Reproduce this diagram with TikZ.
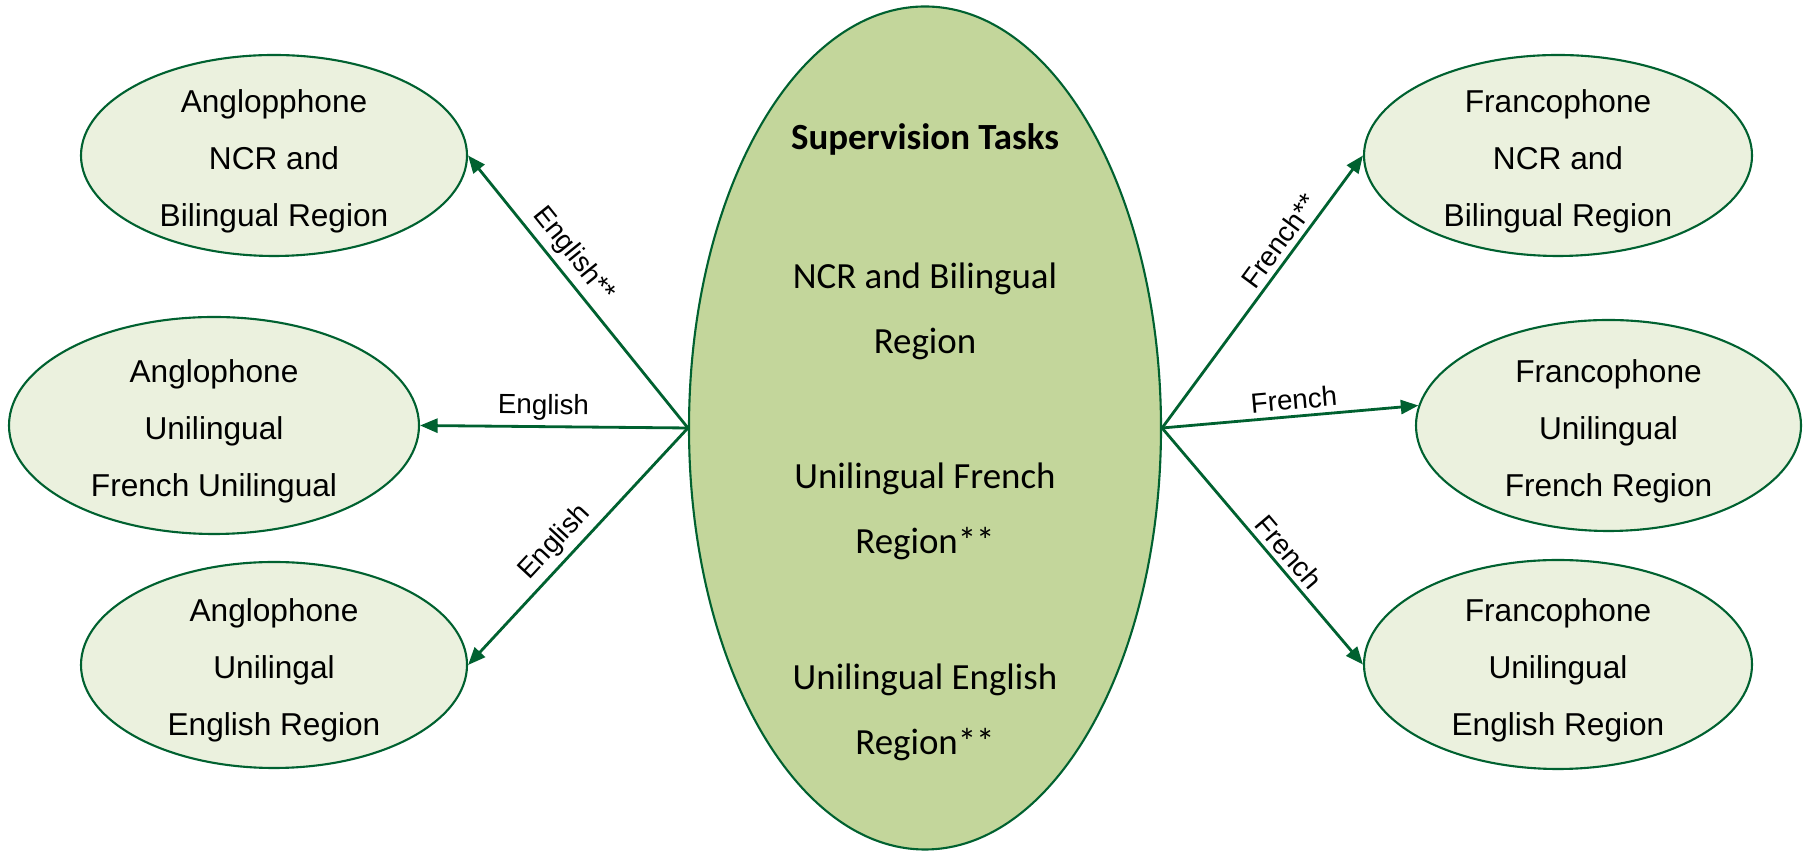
\documentclass[tikz,border=0pt]{standalone}
\usepackage{fontspec}
\setmainfont{Liberation Sans}
\newfontfamily\calibrifont{Carlito}
\usetikzlibrary{shapes.geometric,arrows.meta}
\definecolor{regionfill}{RGB}{235,241,222}
\definecolor{taskfill}{RGB}{195,214,155}
\definecolor{edgegreen}{RGB}{0,97,48}
\newcommand\colorLink{edgegreen}

\tikzset{
	region/.style={ellipse, draw=edgegreen, fill=regionfill, line width=0.6pt, inner xsep=0pt, inner ysep=-3pt, text height=42.2pt, align=center, font=\fontsize{9}{16.2}\selectfont},
	link/.style={-{Triangle[length=5pt,width=4pt]}, draw=\colorLink, line width=0.8pt},
	linklabel/.style={font=\fontsize{7.9}{9}\selectfont, sloped, above, inner sep=1.5pt}
}

\begin{document}
\begin{tikzpicture}
		\useasboundingbox (0,0) rectangle (18.1,8.52);

		% centre
		\node[ellipse, draw=edgegreen, fill=taskfill, line width=0.6pt, minimum width=4.72cm, minimum height=8.43cm] (tasks) at (9.25,4.24) {};
		\node[align=center, font=\calibrifont\fontsize{10.5}{18.5}\selectfont] (taskstext) at ([yshift=-0.14cm]tasks.center) {\textbf{Supervision Tasks}\\[21pt]NCR and Bilingual\\Region\\[20pt]Unilingual French\\Region**\\[20pt]Unilingual English\\Region**};

		% left side
		\node[region, minimum width=3.86cm, minimum height=2.01cm] (anglo1) at (2.74,6.965) {Anglopphone\\NCR and\\Bilingual Region};
		\node[region, minimum width=4.10cm, minimum height=2.17cm] (anglo2) at (2.14,4.265) {Anglophone\\Unilingual\\French Unilingual};
		\node[region, minimum width=3.86cm, minimum height=2.06cm] (anglo3) at (2.74,1.87) {Anglophone\\Unilingal\\English Region};

		% right side
		\node[region, minimum width=3.88cm, minimum height=2.01cm] (franco1) at (15.58,6.965) {Francophone\\NCR and\\Bilingual Region};
		\node[region, minimum width=3.85cm, minimum height=2.11cm] (franco2) at (16.085,4.265) {Francophone\\Unilingual\\French Region};
		\node[region, minimum width=3.88cm, minimum height=2.09cm] (franco3) at (15.58,1.875) {Francophone\\Unilingual\\English Region};

		\foreach \from/\to/\word/\p in {tasks.west/anglo1.east/English**/0.59, tasks.west/anglo2.east/English/0.54, tasks.west/anglo3.east/English/0.54, tasks.east/franco1.west/French**/0.65, tasks.east/franco2.174/French/0.52, tasks.east/franco3.west/French/0.57}{
			\draw[link] (\from) -- node[linklabel, pos=\p] {\word} (\to);
		}
\end{tikzpicture}
\end{document}
